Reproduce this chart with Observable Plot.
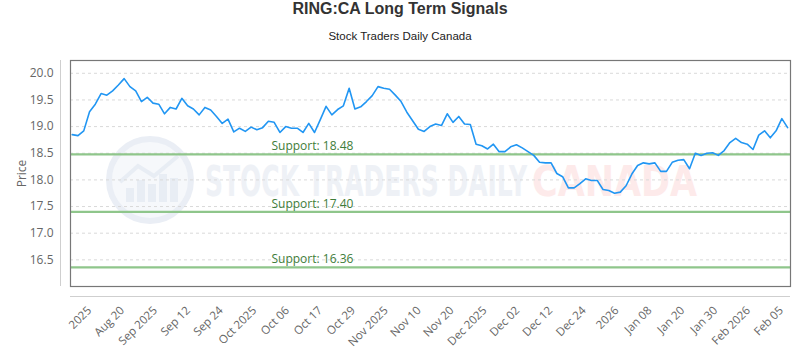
<!DOCTYPE html>
<html>
<head>
<meta charset="utf-8">
<script src="https://cdn.jsdelivr.net/npm/d3@7"></script>
<script src="https://cdn.jsdelivr.net/npm/@observablehq/plot@0.6"></script>
<style>
  html, body { margin: 0; padding: 0; background: #fff; }
  #wrap { width: 800px; height: 350px; overflow: hidden; }
  #title { height: 30px; line-height: 32px; text-align: center; font: bold 16px "Liberation Sans", "DejaVu Sans", sans-serif; color: #333; }
  #subtitle { height: 20px; line-height: 20px; text-align: center; font: 11.5px "Liberation Sans", "DejaVu Sans", sans-serif; color: #222; }
</style>
</head>
<body>
<div id="wrap">
  <div id="title">RING:CA Long Term Signals</div>
  <div id="subtitle">Stock Traders Daily Canada</div>
  <div id="chart"></div>
</div>
<script>
// Closing prices (one per trading day)
const prices = [
  18.85, 18.83, 18.92, 19.28, 19.42, 19.62, 19.59, 19.67, 19.78, 19.90,
  19.75, 19.67, 19.47, 19.55, 19.44, 19.42, 19.24, 19.36, 19.33, 19.53,
  19.39, 19.33, 19.22, 19.36, 19.31, 19.19, 19.06, 19.14, 18.90, 18.97,
  18.91, 18.99, 18.94, 18.98, 19.10, 19.08, 18.89, 19.00, 18.97, 18.97,
  18.89, 19.06, 18.89, 19.13, 19.38, 19.22, 19.32, 19.39, 19.72, 19.33,
  19.37, 19.47, 19.58, 19.75, 19.72, 19.70, 19.59, 19.47, 19.27, 19.11,
  18.95, 18.91, 19.00, 19.05, 19.02, 19.24, 19.08, 19.19, 19.05, 19.04,
  18.67, 18.64, 18.58, 18.67, 18.53, 18.53, 18.62, 18.66, 18.60, 18.53,
  18.46, 18.33, 18.32, 18.32, 18.12, 18.06, 17.85, 17.85, 17.93, 18.02,
  17.99, 17.99, 17.82, 17.80, 17.75, 17.77, 17.89, 18.11, 18.27, 18.32,
  18.30, 18.32, 18.16, 18.16, 18.33, 18.37, 18.38, 18.21, 18.50, 18.46,
  18.50, 18.51, 18.46, 18.55, 18.70, 18.78, 18.70, 18.67, 18.57, 18.84,
  18.92, 18.79, 18.92, 19.15, 18.98
];

// Support levels
const supports = [18.48, 17.40, 16.36];

// Y axis ticks
const yTicks = [16.5, 17.0, 17.5, 18.0, 18.5, 19.0, 19.5, 20.0];

// X axis tick labels and their positions (in trading-day index units)
const xLabels = ["2025", "Aug 20", "Sep 2025", "Sep 12", "Sep 24", "Oct 2025", "Oct 06", "Oct 17",
  "Oct 29", "Nov 2025", "Nov 10", "Nov 20", "Dec 2025", "Dec 02", "Dec 12", "Dec 24", "2026",
  "Jan 08", "Jan 20", "Jan 30", "Feb 2026", "Feb 05"];
const xTickPos = [3.0, 8.7, 14.4, 20.1, 25.8, 31.6, 37.3, 43.0, 48.7, 54.4, 60.1,
  65.8, 71.5, 77.2, 82.9, 88.7, 94.4, 100.1, 105.8, 111.5, 117.2, 122.9];

const series = prices.map((p, i) => ({i, p}));
const labelOf = new Map(xTickPos.map((t, k) => [t, xLabels[k]]));

const font = "'Open Sans', 'DejaVu Sans', sans-serif";

const chart = Plot.plot({
  width: 800,
  height: 300,
  marginTop: 10,
  marginBottom: 64,
  marginLeft: 70,
  marginRight: 10,
  style: {fontFamily: font, fontSize: "12px", color: "#666", background: "transparent"},
  x: {domain: [-0.3, 124.5], axis: null},
  y: {domain: [16.0, 20.24], axis: null},
  marks: [
    Plot.gridY(yTicks, {stroke: "#d9d9d9", strokeOpacity: 1, strokeDasharray: "3,3"}),
    Plot.axisY(yTicks, {
      tickSize: 0, tickPadding: 17, tickFormat: d => d.toFixed(1),
      fill: "#666", fontSize: 12,
      label: "Price", labelAnchor: "center", labelOffset: 53, labelArrow: false
    }),
    Plot.axisX(xTickPos, {
      tickSize: 0, tickPadding: 22, tickRotate: -45,
      tickFormat: d => labelOf.get(d), fill: "#666", fontSize: 11.5, label: null
    }),
    Plot.ruleX([-0.3], {dx: -10, stroke: "#cfcfcf"}),
    Plot.ruleY([16.0], {dy: 10, stroke: "#cfcfcf"}),
    Plot.ruleY(supports, {stroke: "#8fc68b", strokeWidth: 2.2}),
    Plot.text(supports, {
      y: d => d, text: d => `Support: ${d.toFixed(2)}`,
      frameAnchor: "left", dx: 201, dy: -8, textAnchor: "start",
      fill: "#3f7d3a", fontSize: 12
    }),
    Plot.line(series, {x: "i", y: "p", stroke: "#2196f3", strokeWidth: 1.6}),
    Plot.frame({stroke: "#777", strokeWidth: 1.2})
  ]
});

document.getElementById("chart").appendChild(chart);

// Watermark (decorative, behind the data)
const svg = d3.select(chart);
const wm = svg.insert("g", ":first-child").attr("pointer-events", "none").attr("text-anchor", "start");
const cx = 150, cy = 130, r = 41;
wm.append("circle").attr("cx", cx).attr("cy", cy).attr("r", r)
  .attr("fill", "#f6f8fb").attr("stroke", "#eaeef5").attr("stroke-width", 6);
[[-24, 14], [-13, 22], [-2, 18], [9, 28], [20, 24]].forEach(([dx, h]) => {
  wm.append("rect").attr("x", cx + dx).attr("y", cy + 22 - h).attr("width", 8).attr("height", h)
    .attr("fill", "#e8edf4");
});
wm.append("polyline")
  .attr("points", `${cx-30},${cy+2} ${cx-12},${cy-14} ${cx+4},${cy-4} ${cx+28},${cy-24}`)
  .attr("fill", "none").attr("stroke", "#e8edf4").attr("stroke-width", 4);
wm.append("text").attr("x", 205).attr("y", 146)
  .attr("text-anchor", "start")
  .attr("textLength", 322).attr("lengthAdjust", "spacingAndGlyphs")
  .attr("font-family", "'DejaVu Sans', sans-serif").attr("font-weight", "bold").attr("font-size", 42)
  .attr("fill", "#eef1f6").text("STOCK TRADERS DAILY");
wm.append("text").attr("x", 532).attr("y", 146)
  .attr("text-anchor", "start")
  .attr("textLength", 165).attr("lengthAdjust", "spacingAndGlyphs")
  .attr("font-family", "'DejaVu Sans', sans-serif").attr("font-weight", "bold").attr("font-size", 42)
  .attr("fill", "#fdeaea").text("CANADA");
</script>
</body>
</html>
